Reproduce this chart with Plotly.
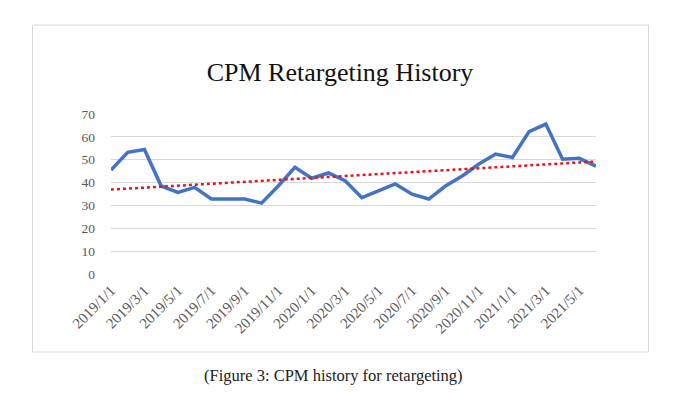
import numpy as np
import plotly.graph_objects as go

months = [f"{y}/{m}/1" for y in (2019, 2020, 2021) for m in range(1, 13)][:30]
cpm = [45.5, 53.2, 54.5, 38.5, 35.7, 37.9, 32.8, 32.8, 32.8, 31.0,
       38.5, 46.7, 41.9, 44.2, 40.8, 33.4, 36.4, 39.4, 34.9, 32.8,
       38.5, 42.9, 48.1, 52.5, 51.0, 62.3, 65.6, 50.2, 50.6, 47.2]
tick_labels = months[::2]
y_ticks = [0, 10, 20, 30, 40, 50, 60, 70]

idx = np.arange(len(cpm))
slope, intercept = np.polyfit(idx, cpm, 1)
trend = slope * idx + intercept

SERIF = "Liberation Serif, DejaVu Serif, serif"

# page body has an 8px margin, so positions below are offset by 8px
OFF = 8
W, H = 700 - OFF, 394 - OFF
L, T = 111 - OFF, 114 - OFF
R, B = 104, 120
PW, PH = W - L - R, H - T - B


def px(xabs):
    return (xabs - OFF - L) / PW


def py(yabs):
    return (H - B - (yabs - OFF)) / PH


fig = go.Figure()
fig.add_trace(go.Scatter(x=months, y=cpm, mode="lines",
                         line=dict(color="#4472C4", width=3.5),
                         showlegend=False, hoverinfo="x+y"))
fig.add_trace(go.Scatter(x=months, y=trend, mode="lines",
                         line=dict(color="#E8141C", width=2.5, dash="dot"),
                         showlegend=False, hoverinfo="skip"))

fig.update_layout(
    width=W, height=H,
    margin=dict(l=L, r=R, t=T, b=B),
    paper_bgcolor="white", plot_bgcolor="white",
    title=dict(text="CPM Retargeting History",
               x=(340 - OFF) / W, xanchor="center",
               xref="container", yref="container",
               y=1 - (72 - OFF) / H, yanchor="middle",
               font=dict(family=SERIF, size=26, color="#111111")),
    xaxis=dict(type="category", tickmode="array", tickvals=tick_labels,
               ticktext=tick_labels, tickangle=-45, showgrid=False,
               showline=False, zeroline=False, ticks="", ticklabelstandoff=4,
               tickfont=dict(family=SERIF, size=15, color="#595959")),
    yaxis=dict(range=[0, 70], tickvals=y_ticks, showgrid=True,
               gridcolor="#D9D9D9", gridwidth=1, zeroline=False,
               showline=False, ticks="", ticklabelstandoff=15,
               tickfont=dict(family=SERIF, size=13.5, color="#595959")),
    shapes=[dict(type="rect", xref="paper", yref="paper",
                 x0=px(32.5), x1=px(648.5), y0=py(352), y1=py(25),
                 line=dict(color="#D9D9D9", width=1), layer="below")],
    annotations=[dict(text="(Figure 3: CPM history for retargeting)",
                      xref="paper", yref="paper",
                      x=px(333), y=py(375),
                      xanchor="center", yanchor="middle", showarrow=False,
                      font=dict(family=SERIF, size=16.5, color="#222222"))],
)

fig.write_html("out.html")
